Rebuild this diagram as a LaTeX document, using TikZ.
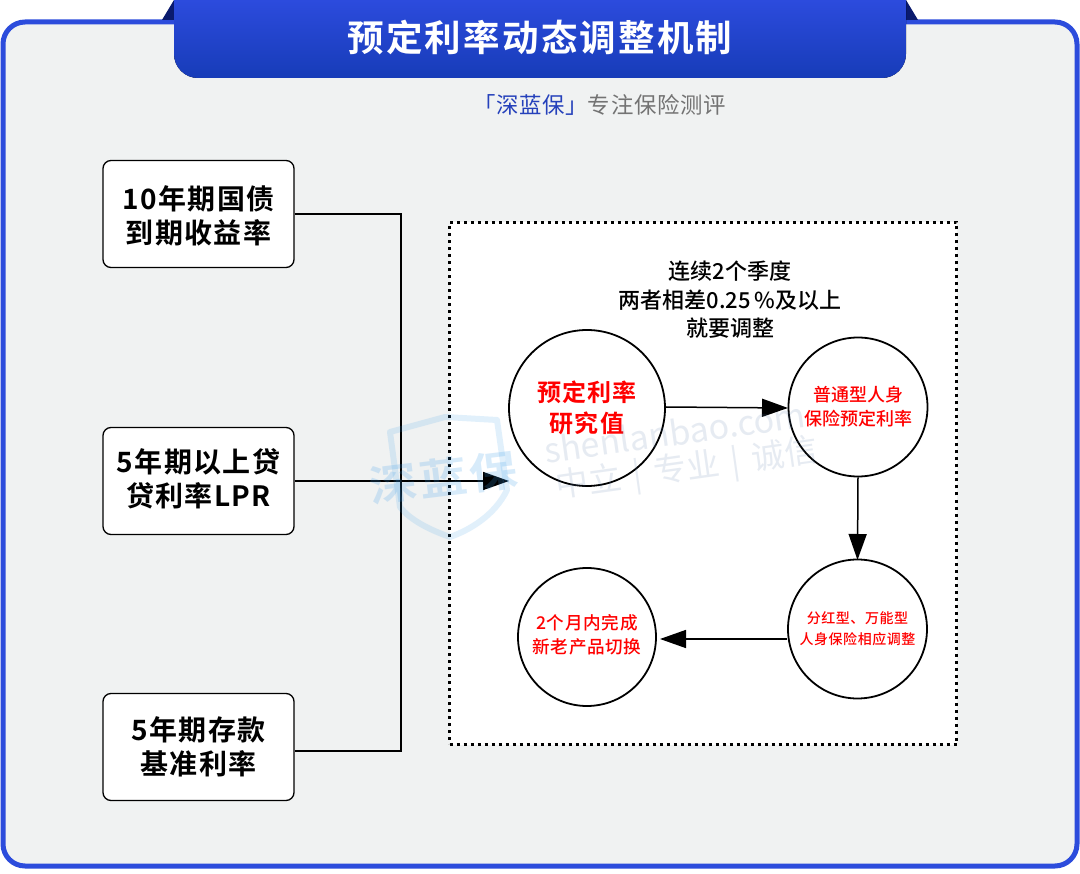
\documentclass[tikz,border=0pt]{standalone}
\usepackage{fontspec}
\setmainfont{Noto Sans CJK SC}
\newfontfamily\cjkmed{Noto Sans CJK SC Medium}
\newfontfamily\cjkb[LetterSpace=5]{Noto Sans CJK SC Bold}
\newfontfamily\cjkmeds[LetterSpace=4]{Noto Sans CJK SC Medium}
\newfontfamily\cjktitle[LetterSpace=6]{Noto Sans CJK SC Bold}
\newfontfamily\cjkr[LetterSpace=3]{Noto Sans CJK SC}
\usetikzlibrary{arrows.meta,shapes.geometric}
\newcommand\lifted[2]{\raisebox{#1}[\height][\depth]{#2}}
\definecolor{framec}{HTML}{2C4CDC}
\definecolor{panelc}{HTML}{F0F2F2}
\definecolor{headtop}{HTML}{2C4BDD}
\definecolor{headbot}{HTML}{173CB8}
\definecolor{navy}{HTML}{0A1A6E}
\definecolor{wmblue}{HTML}{3A9BE8}
\definecolor{wmgrey}{HTML}{5B7BA8}
\tikzset{
 srcbox/.style={draw=black,line width=1.3pt,fill=white,rounded corners=8pt,minimum width=191pt,minimum height=107pt,inner sep=0pt,align=center,font=\cjkb\fontsize{28}{34}\selectfont},
 ball/.style={circle,draw=black,line width=1.8pt,fill=white,inner sep=0pt,align=center,text=red},
 link/.style={draw=black,line width=1.5pt},
 tiplink/.style={link,-{Triangle[length=26pt,width=18pt]}},
}
\begin{document}
\begin{tikzpicture}[x=1pt,y=-1pt]
\useasboundingbox (0,0) rectangle (1080,874);
\fill[white] (0,0) rectangle (1080,874);
% frame
\draw[draw=framec,fill=panelc,line width=5pt,rounded corners=22pt] (3,22) rectangle (1077,866);
% header
\fill[navy] (162,20) -- (174,0) -- (174,20) -- cycle;
\fill[navy] (906,0) -- (918,20) -- (906,20) -- cycle;
\fill[top color=headtop,bottom color=headbot] (174,0) [rounded corners=24pt] -- (174,78) -- (906,78) [sharp corners] -- (906,0) -- cycle;
\node[text=white,inner sep=0pt,font=\cjktitle\fontsize{36.5}{42}\selectfont] (title) at (540,38) {预定利率动态调整机制};
\node[inner sep=0pt,font=\cjkr\fontsize{22.4}{26}\selectfont,text=black!55] (sub) at (599.5,105) {\textcolor{framec!85!black}{「深蓝保」}专注保险测评};
% dashed panel
\node[draw=black,dash pattern=on 3pt off 4pt,line width=3pt,fill=white,minimum width=507pt,minimum height=522pt,inner sep=0pt] (panel) at (703,483.5) {};
% sources
\node[srcbox] (a) at (198.5,214) {\lifted{-2pt}{10年期国债}\\\lifted{-2pt}{到期收益率}};
\node[srcbox] (b) at (198.5,481) {\lifted{2.5pt}{5年期以上贷}\\\lifted{2.5pt}{贷利率LPR}};
\node[srcbox] (c) at (198.5,747) {5年期存款\\基准利率};
\coordinate (t1) at (401,214);
\coordinate (t2) at (401,751);
\coordinate (t3) at (509,481);
\draw[link] (a.east) -- (t1) -- (t2) -- (c.east |- t2);
\draw[tiplink] (b.east) -- (t3);
% caption
\node[inner sep=0pt,align=center,font=\cjkmed\fontsize{22}{28.5}\selectfont] (cap) at (730,300) {连续2个季度\\两者相差0.25\,\%及以上\\就要调整};
% circles
\node[ball,minimum size=156pt,font=\cjkb\fontsize{24}{30.5}\selectfont] (c1) at (587,408) {预定利率\\研究值};
\node[ball,minimum size=139pt,font=\cjkmed\fontsize{18}{24}\selectfont] (c2) at (858,407) {普通型人身\\保险预定利率};
\node[ball,minimum size=139pt,font=\cjkmeds\fontsize{14}{21}\selectfont] (c3) at (857.5,629) {分红型、万能型\\人身保险相应调整};
\node[ball,minimum size=138pt,font=\cjkmeds\fontsize{17.6}{24}\selectfont] (c4) at (587,637) {\lifted{2pt}{2个月内完成}\\\lifted{2pt}{新老产品切换}};
\coordinate (e1) at (788,408);
\coordinate (e2) at (857.5,560);
\coordinate (e3) at (660,639);
\draw[tiplink] (c1.east |- 0,407) -- (e1);
\draw[tiplink] (c2.south) -- (e2);
\draw[tiplink] (c3.west |- 0,639) -- (e3);
% watermark, laid over the drawing
\draw[wmblue,opacity=.15,line width=6pt,line join=round] (390,432) -- (445,417) -- (497,420) -- (507,490) .. controls (495,515) and (470,530) .. (450,537) .. controls (430,530) and (410,520) .. (400,507) -- cycle;
\node[text=wmblue,opacity=.2,rotate=7,yscale=.88,font=\cjkb\fontsize{48}{52}\selectfont,inner sep=0pt] (wm0) at (443,478) {深蓝保};
\node[text=wmgrey,opacity=.15,rotate=8,font=\fontsize{34}{40}\selectfont,inner sep=0pt] (wm1) at (675,432) {shenlanbao.com};
\node[text=wmgrey,opacity=.15,rotate=8,font=\fontsize{33}{38}\selectfont,inner sep=0pt] (wm2) at (687,470) {中立\hspace{12pt}|\hspace{12pt}专业\hspace{12pt}|\hspace{12pt}诚信};
\end{tikzpicture}
\end{document}
